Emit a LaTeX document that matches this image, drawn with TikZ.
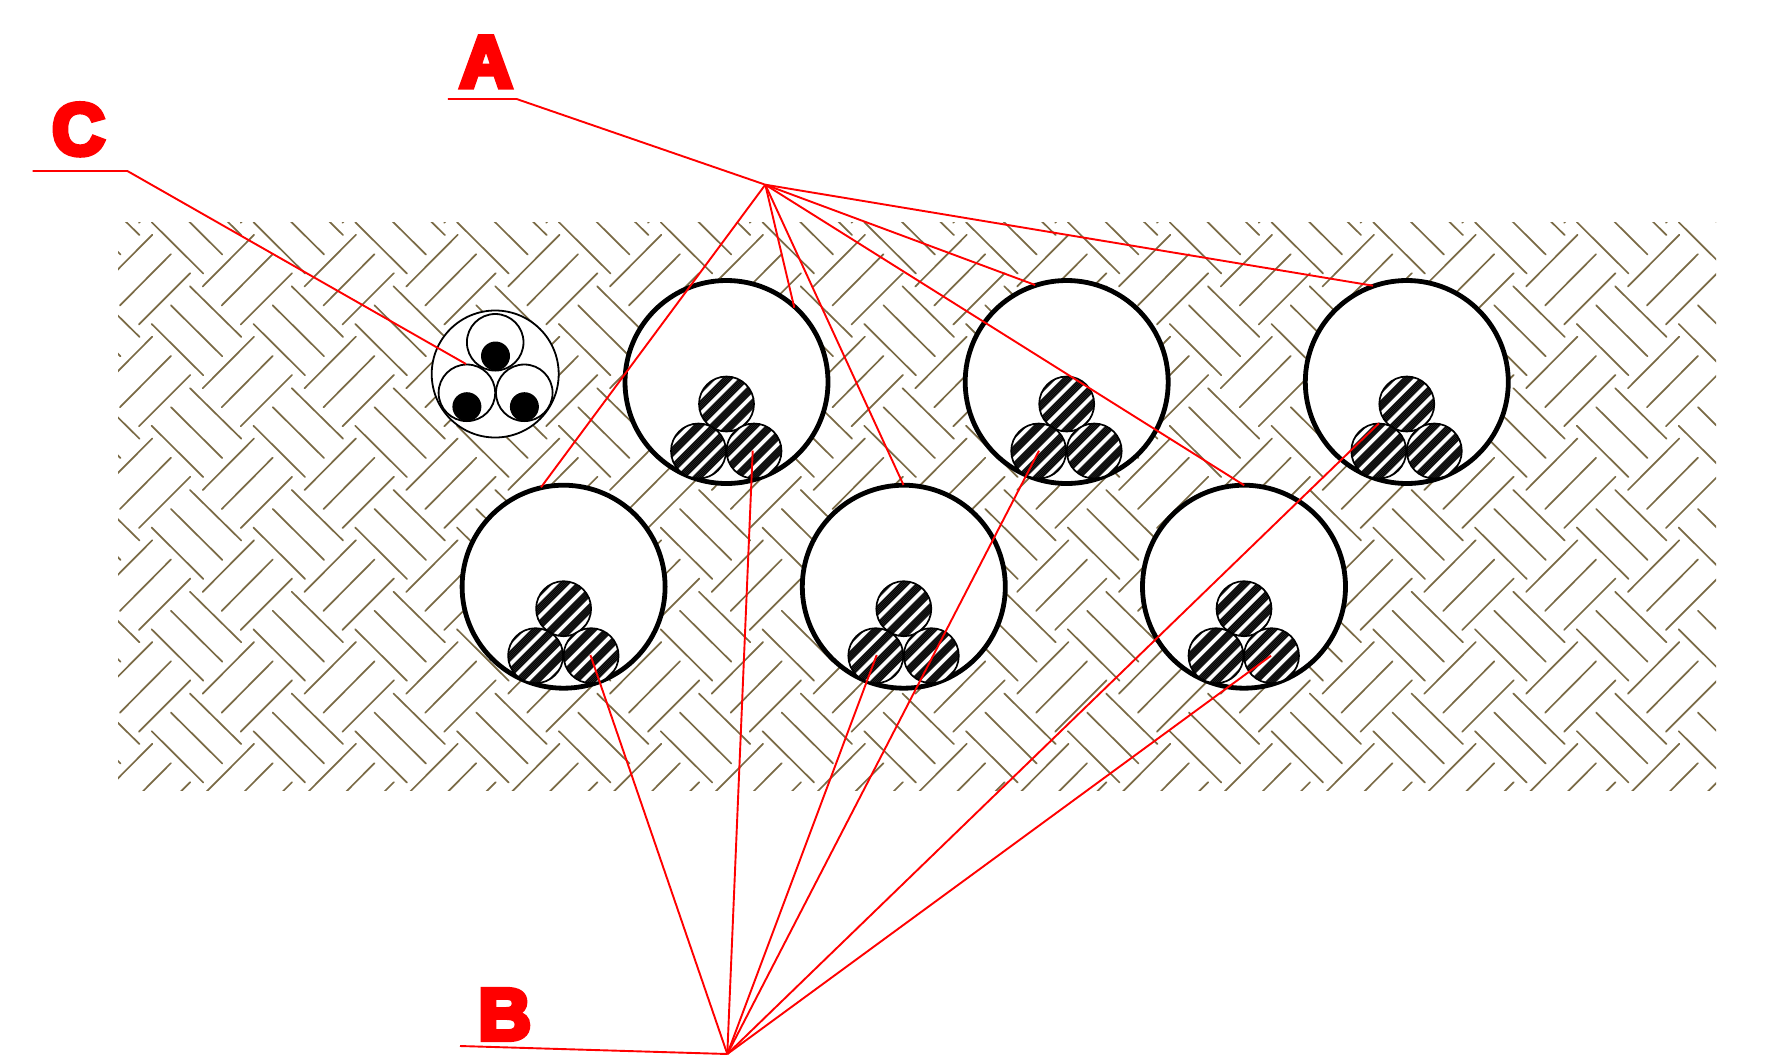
\documentclass[tikz,border=0pt]{standalone}
\usepackage{fontspec}
\newfontfamily\labelfont[FakeBold=7]{Liberation Sans Bold}
\definecolor{soil}{HTML}{7A6A45}
\definecolor{band}{HTML}{303030}
\tikzset{
  hatchline/.style={draw=soil,line width=1.7pt,line cap=round},
  duct/.style={circle,draw=black,fill=white,line width=4.8pt,minimum size=203pt,inner sep=0pt,outer sep=0pt},
  leader/.style={draw=red,line width=1.9pt,line join=round},
  biglabel/.style={text=red,anchor=base,inner sep=0pt,font=\labelfont\fontsize{73}{80}\selectfont},
  thin outline/.style={draw=black,line width=1.8pt},
}
\newcommand{\cablecirc}[3]{%
  \begin{scope}
    \clip (#1,#2) circle (27.5);
    \fill[white] (#1,#2) circle (27.5);
    \foreach \k in {-3,...,3}{
      \pgfmathsetmacro{\s}{(\k*11.9+#3)*0.7071}
      \draw[band,line width=8pt] (#1+\s-30,#2+\s+30) -- (#1+\s+30,#2+\s-30);
      \foreach \q in {-2.8,-1.4,0,1.4,2.8}{
        \pgfmathsetmacro{\t}{(\k*11.9+#3+\q)*0.7071}
        \draw[black,line width=0.7pt] (#1+\t-30,#2+\t+30) -- (#1+\t+30,#2+\t-30);
      }
    }
  \end{scope}
  \draw[black,line width=1.7pt] (#1,#2) circle (27.5);
}
\newcommand{\ductgroup}[3]{%
  \node[duct] (#3) at (#1,#2) {};
  \cablecirc{#1}{#2+22}{6.5}
  \cablecirc{#1-28}{#2+69}{6.0}
  \cablecirc{#1+27.5}{#2+69}{6.0}
}
\begin{document}
\begin{tikzpicture}[x=1pt,y=-1pt]
\useasboundingbox (0,0) rectangle (1765,1061);
% soil hatch
\begin{scope}
  \clip (118,222) rectangle (1716,790);
  \foreach \i in {-14,...,3}{
    \foreach \j in {-5,...,2}{
      \foreach \ax/\ay/\bx/\by in {1475/629.3/1526.7/680.7,1494.3/610.7/1545.7/661.7,1513.3/591.7/1564.7/642.3,1424.3/693.7/1475.7/642,1443.3/712.7/1494.3/661.3,1462.3/731.7/1513.7/680.3}{
        \draw[hatchline] (\ax+\i*101.8,\ay+\j*101.8) -- (\bx+\i*101.8,\by+\j*101.8);
      }
    }
  }
\end{scope}
% ducts
\ductgroup{726.5}{382}{d1}
\ductgroup{1066.7}{382}{d2}
\ductgroup{1406.8}{382}{d3}
\ductgroup{563.6}{586.7}{d4}
\ductgroup{903.8}{586.7}{d5}
\ductgroup{1244}{586.7}{d6}
% triplex cable
\node[circle,thin outline,fill=white,minimum size=127pt,inner sep=0pt] (outer) at (495.2,374) {};
\node[circle,thin outline,fill=white,minimum size=56.6pt,inner sep=0pt] (t1) at (495.2,342.3) {};
\node[circle,thin outline,fill=white,minimum size=56.6pt,inner sep=0pt] (t2) at (466.9,392.8) {};
\node[circle,thin outline,fill=white,minimum size=56.6pt,inner sep=0pt] (t3) at (524.3,392.8) {};
\node[circle,fill=black,minimum size=29pt,inner sep=0pt] (k1) at (495.5,356) {};
\node[circle,fill=black,minimum size=29pt,inner sep=0pt] (k2) at (466.9,406.7) {};
\node[circle,fill=black,minimum size=29pt,inner sep=0pt] (k3) at (524.4,406.7) {};
% labels
\node[biglabel] (la) at (486,87) {A};
\node[biglabel] (lb) at (504.7,1039.6) {B};
\node[biglabel] (lc) at (78.5,154.5) {C};
% leader points
\coordinate (c0) at (32.5,171);
\coordinate (c1) at (127.4,171);
\coordinate (c2) at (466,364);
\coordinate (a0) at (447.8,99);
\coordinate (a1) at (516.6,99);
\coordinate (hubA) at (765.3,184.7);
\coordinate (a2) at (541,487.3);
\coordinate (a3) at (794.3,307.7);
\coordinate (a4) at (903.5,485);
\coordinate (a5) at (1035.2,285);
\coordinate (a6) at (1244.2,485.3);
\coordinate (a7) at (1373,285.7);
\coordinate (b0) at (460,1046);
\coordinate (hubB) at (727.3,1054);
\coordinate (b1) at (590.4,655);
\coordinate (b2) at (752.7,450.7);
\coordinate (b3) at (876.7,655);
\coordinate (b4) at (1039,450.7);
\coordinate (b5) at (1378.9,423.3);
\coordinate (b6) at (1271,655.7);
\draw[leader] (c0) -- (c1) -- (c2);
\draw[leader] (a0) -- (a1) -- (hubA);
\foreach \p in {a2,a3,a4,a5,a6,a7}{\draw[leader] (hubA) -- (\p);}
\draw[leader] (b0) -- (hubB);
\foreach \p in {b1,b2,b3,b4,b5,b6}{\draw[leader] (hubB) -- (\p);}
\end{tikzpicture}
\end{document}
